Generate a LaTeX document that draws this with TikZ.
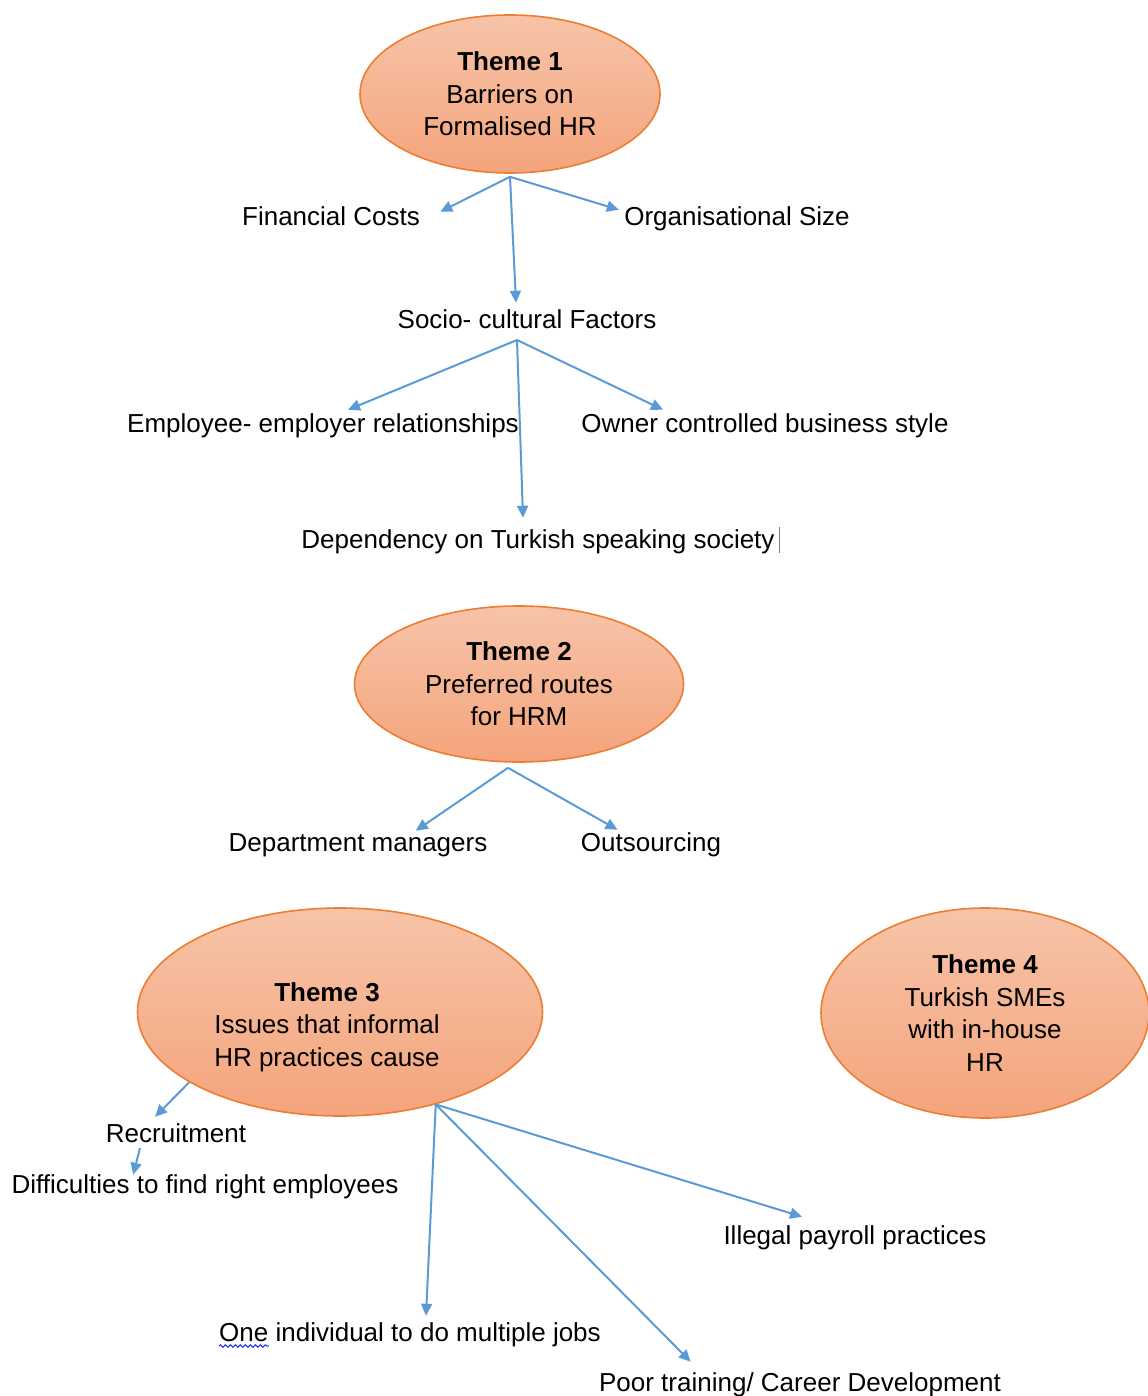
\documentclass[tikz,border=0pt]{standalone}
\usepackage{fontspec}
\setmainfont{Liberation Sans}
\usetikzlibrary{shapes.geometric,arrows.meta,calc,decorations.pathmorphing}
\definecolor{themeline}{HTML}{ED7D31}
\definecolor{themetop}{HTML}{F7C4A9}
\definecolor{themebot}{HTML}{F4A47C}
\definecolor{arrowblue}{HTML}{5B9BD5}
\tikzset{
  theme/.style={ellipse, draw=themeline, line width=0.8pt, top color=themetop, bottom color=themebot, align=center, inner sep=0pt},
  lbl/.style={anchor=base, inner sep=0pt},
  link/.style={draw=arrowblue, line width=1pt, -{Triangle[length=6pt,width=5.5pt]}}
}
\begin{document}
\begin{tikzpicture}[x=0.5pt,y=-0.5pt,font=\fontsize{13}{16.25}\selectfont]
\useasboundingbox (0,0) rectangle (1147,1396);

% themes
\node[theme, minimum width=150pt, minimum height=79pt] (T1) at (510,94) {\textbf{Theme 1}\\Barriers on\\Formalised HR};
\node[theme, minimum width=164.5pt, minimum height=78pt] (T2) at (519,684) {\textbf{Theme 2}\\Preferred routes\\for HRM};
\node[theme, minimum width=202.5pt, minimum height=104pt] (T3) at (340,1012) {\raisebox{0pt}[\dimexpr\height+15pt\relax][\depth]{\hspace*{-13pt}\begin{tabular}{@{}c@{}}\textbf{Theme 3}\\Issues that informal\\HR practices cause\end{tabular}}};
\node[theme, minimum width=164pt, minimum height=105pt] (T4) at (985,1013) {\textbf{Theme 4}\\Turkish SMEs\\with in-house\\HR};

% labels
\node[lbl] (fin) at (331,226) {Financial Costs};
\node[lbl] (org) at (737,226) {Organisational Size};
\node[lbl] (soc) at (527,328) {Socio- cultural Factors};
\node[lbl] (emp) at (323,432) {Employee- employer relationships};
\node[lbl] (own) at (765,432) {Owner controlled business style};
\node[lbl] (dep) at (538,548) {Dependency on Turkish speaking society};
\node[lbl] (dept) at (358,851) {Department managers};
\node[lbl] (outs) at (651,851) {Outsourcing};
\node[lbl] (rec) at (176,1142) {Recruitment};
\node[lbl] (diff) at (205,1193) {Difficulties to find right employees};
\node[lbl] (ill) at (855,1244) {Illegal payroll practices};
\node[lbl] (one) at (410,1341) {One individual to do multiple jobs};
\node[lbl] (poor) at (800,1391) {Poor training/ Career Development};

% theme 1
\coordinate (t1) at ($(T1.south)+(0,3)$);
\draw[link] (t1) -- ($(fin.north east)+(20,5)$);
\draw[link] (t1) -- ($(org.north west)+(-5,3)$);
\draw[link] (t1) -- ($(soc.north)+(-11,-6)$);
\coordinate (s1) at ($(soc.base)+(-10,12)$);
\draw[link] (s1) -- ($(emp.north)+(25,-3)$);
\draw[link] (s1) -- ($(dep.north)+(-15,-11)$);
\draw[link] (s1) -- ($(own.north west)+(82,-3)$);

% theme 2
\coordinate (t2) at ($(T2.south)+(-11,5)$);
\draw[link] (t2) -- ($(dept.north east)+(-72,-2)$);
\draw[link] (t2) -- ($(outs.north west)+(37,-2)$);

% theme 3
\draw[link] (T3.205) -- ($(rec.north)+(-21,-6)$);
\draw[link] ($(rec.base)+(-36,6)$) -- ($(diff.north west)+(122,1)$);
\coordinate (t3) at (T3.316);
\draw[link] (t3) -- ($(one.north)+(16,-6)$);
\draw[link] (t3) -- ($(poor.north west)+(92,-10)$);
\draw[link] (t3) -- ($(ill.north west)+(79,-8)$);

% spell check mark and cursor
\draw[blue!70!arrowblue, line width=0.5pt, decorate, decoration={snake, segment length=2.5pt, amplitude=0.6pt}] ($(one.base west)+(0,5)$) -- ($(one.base west)+(50,5)$);
\draw[gray, line width=0.4pt] ($(dep.base east)+(4,5)$) -- ($(dep.base east)+(4,-21)$);
\end{tikzpicture}
\end{document}
